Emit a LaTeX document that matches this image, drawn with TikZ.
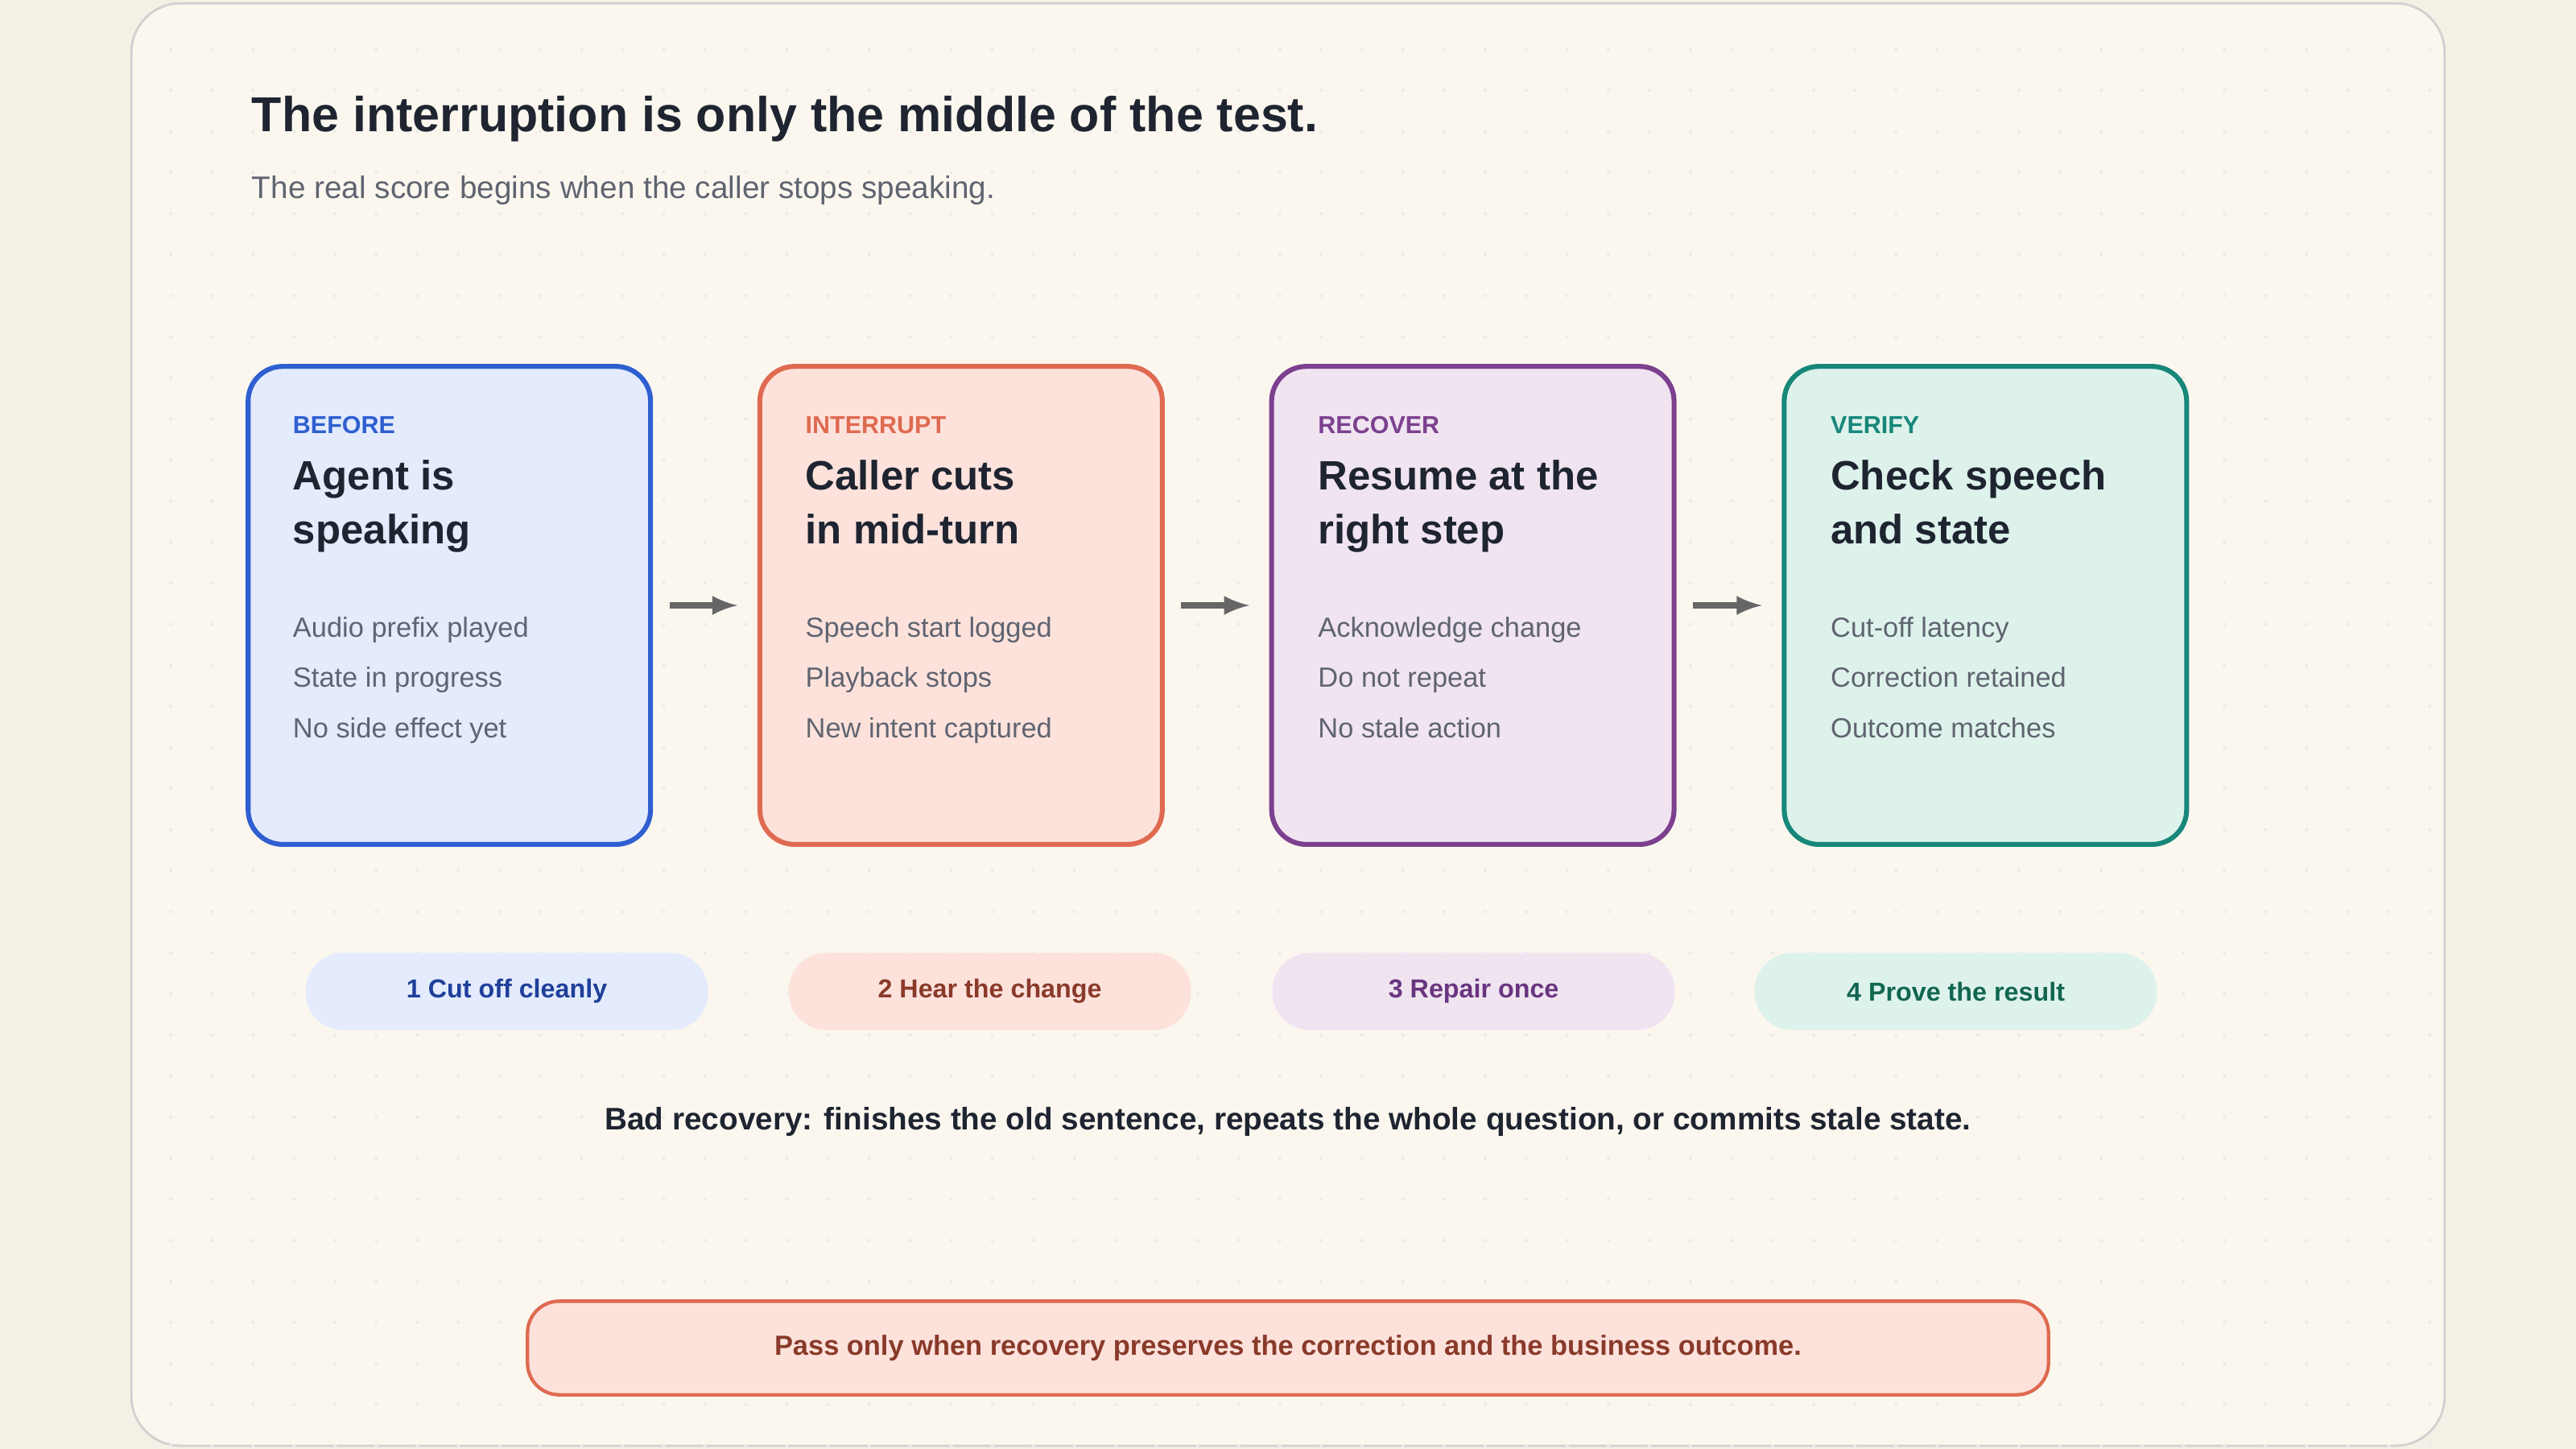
\documentclass[tikz,border=0pt]{standalone}
\usepackage{fontspec}
\setmainfont{Liberation Sans}
\usetikzlibrary{positioning}
\definecolor{ink}{HTML}{1E2430}
\definecolor{muted}{HTML}{5F6470}
\definecolor{page}{HTML}{F4F0E6}
\definecolor{card}{HTML}{FBF7EF}
\definecolor{bluebd}{HTML}{2F5FD0}\definecolor{bluebg}{HTML}{E3EBFC}\definecolor{bluetx}{HTML}{1F3F9A}
\definecolor{redbd}{HTML}{DF6A50}\definecolor{redbg}{HTML}{FDE2DC}\definecolor{redtx}{HTML}{8A3A2A}
\definecolor{purbd}{HTML}{7C408F}\definecolor{purbg}{HTML}{F0E4F1}\definecolor{purtx}{HTML}{6A3580}
\definecolor{tealbd}{HTML}{17877A}\definecolor{tealbg}{HTML}{DEF2EC}\definecolor{tealtx}{HTML}{116650}
\tikzset{
  stage/.style={draw=#1, line width=1.7pt, rounded corners=12pt, minimum width=4.9cm, minimum height=5.82cm, inner sep=0pt},
  pill/.style={rounded corners=13pt, minimum width=4.9cm, minimum height=0.94cm, font=\fontsize{9}{11}\selectfont\bfseries},
  tag/.style={anchor=base west, inner sep=0pt, font=\fontsize{8.5}{10}\selectfont\bfseries},
  head/.style={anchor=base west, inner sep=0pt, text=ink, font=\fontsize{14.2}{17}\selectfont\bfseries},
  item/.style={anchor=base west, inner sep=0pt, text=muted, font=\fontsize{9.6}{11}\selectfont},
  flow/.style={-latex, line width=2pt, draw=black!60, shorten <=0.2cm, shorten >=0.24cm}
}
\begin{document}
\begin{tikzpicture}[x=0.02cm, y=-0.02cm]
\useasboundingbox (0,0) rectangle (1568,882);
\fill[page] (0,0) rectangle (1568,882);
\draw[fill=card, draw=black!18, line width=0.8pt, rounded corners=17pt] (80,2) rectangle (1488,880);
\foreach \i in {0,...,55} \foreach \j in {0,...,34}
  \fill[black!8] (104+25*\i,30+25*\j) circle (0.6pt);

\node[anchor=base west, inner sep=0pt, text=ink, font=\fontsize{17}{20}\selectfont\bfseries] (title) at (153,80) {The interruption is only the middle of the test.};
\node[anchor=base west, inner sep=0pt, text=muted, font=\fontsize{10.8}{13}\selectfont] (subtitle) at (153,121) {The real score begins when the caller stops speaking.};

% stages
\node[stage=bluebd, fill=bluebg] (before) at (273.5,368.5) {};
\node[stage=redbd, fill=redbg] (interrupt) at (585,368.5) {};
\node[stage=purbd, fill=purbg] (recover) at (896.5,368.5) {};
\node[stage=tealbd, fill=tealbg] (verify) at (1208.5,368.5) {};

\node[tag, text=bluebd] (t1) at (178,264) {BEFORE};
\node[head] (h1a) at (178,298) {Agent is};
\node[head] (h1b) at (178,331) {speaking};
\node[item] (i1a) at (178,388) {Audio prefix played};
\node[item] (i1b) at (178,418) {State in progress};
\node[item] (i1c) at (178,449) {No side effect yet};

\node[tag, text=redbd] (t2) at (490,264) {INTERRUPT};
\node[head] (h2a) at (490,298) {Caller cuts};
\node[head] (h2b) at (490,331) {in mid-turn};
\node[item] (i2a) at (490,388) {Speech start logged};
\node[item] (i2b) at (490,418) {Playback stops};
\node[item] (i2c) at (490,449) {New intent captured};

\node[tag, text=purbd] (t3) at (802,264) {RECOVER};
\node[head] (h3a) at (802,298) {Resume at the};
\node[head] (h3b) at (802,331) {right step};
\node[item] (i3a) at (802,388) {Acknowledge change};
\node[item] (i3b) at (802,418) {Do not repeat};
\node[item] (i3c) at (802,449) {No stale action};

\node[tag, text=tealbd] (t4) at (1114,264) {VERIFY};
\node[head] (h4a) at (1114,298) {Check speech};
\node[head] (h4b) at (1114,331) {and state};
\node[item] (i4a) at (1114,388) {Cut-off latency};
\node[item] (i4b) at (1114,418) {Correction retained};
\node[item] (i4c) at (1114,449) {Outcome matches};

\draw[flow] (before) -- (interrupt);
\draw[flow] (interrupt) -- (recover);
\draw[flow] (recover) -- (verify);

% pills
\node[pill, fill=bluebg, text=bluetx] (p1) at (308.5,603.5) {1 Cut off cleanly};
\node[pill, fill=redbg, text=redtx] (p2) at (602.5,603.5) {2 Hear the change};
\node[pill, fill=purbg, text=purtx] (p3) at (897,603.5) {3 Repair once};
\node[pill, fill=tealbg, text=tealtx] (p4) at (1190.5,603.5) {4 Prove the result};

\node[text=ink, font=\fontsize{10.8}{13}\selectfont\bfseries] (bad) at (784,683) {Bad recovery: finishes the old sentence, repeats the whole question, or commits stale state.};

\node[draw=redbd, line width=1.2pt, fill=redbg, rounded corners=11pt, minimum width=18.52cm, minimum height=1.14cm, text=redtx, font=\fontsize{9.6}{11}\selectfont\bfseries] (pass) at (784,820.5) {Pass only when recovery preserves the correction and the business outcome.};
\end{tikzpicture}
\end{document}
